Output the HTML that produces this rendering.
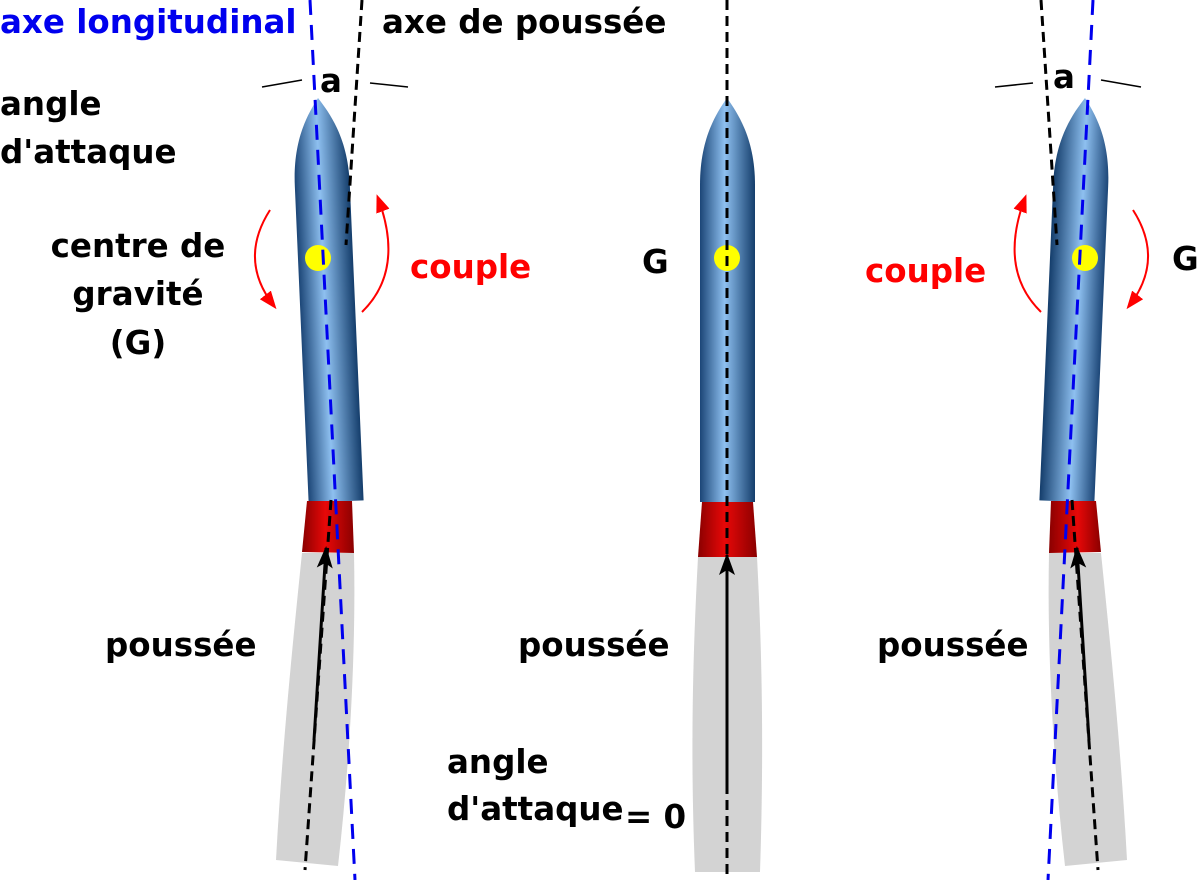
<!DOCTYPE html>
<html><head><meta charset="utf-8"><style>
html,body{margin:0;padding:0;background:#fff}
svg{display:block}
text{font-family:"DejaVu Sans","Liberation Sans",sans-serif;font-weight:bold;font-size:32.5px}
</style></head><body>
<svg width="1200" height="880" viewBox="0 0 1200 880" xmlns="http://www.w3.org/2000/svg">
<defs>
<linearGradient id="bg" x1="0" x2="1" y1="0" y2="0">
<stop offset="0" stop-color="#1c4677"/><stop offset="0.45" stop-color="#8ec0f0"/><stop offset="1" stop-color="#143d6b"/>
</linearGradient>
<linearGradient id="rg" x1="0" x2="1" y1="0" y2="0">
<stop offset="0" stop-color="#8a0000"/><stop offset="0.45" stop-color="#e80808"/><stop offset="1" stop-color="#8a0000"/>
</linearGradient>
<marker id="ra" markerWidth="18" markerHeight="18" refX="14" refY="9" orient="auto" markerUnits="userSpaceOnUse" viewBox="0 0 18 18"><path d="M0,2 L18,9 L0,16 Z" fill="#f00"/></marker>
<marker id="ba" markerWidth="22" markerHeight="22" refX="20" refY="11" orient="auto" markerUnits="userSpaceOnUse" viewBox="0 0 22 22"><path d="M0,3 L22,11 L0,19 L5,11 Z" fill="#000"/></marker>
<g id="body">
<path d="M700,185 C700,140 715,115 727,98 C739,115 755,140 755,185 L755,502 L700,502 Z" fill="url(#bg)"/>
</g>
<g id="L">
<path d="M302,553 L354,553 C356,650 350,760 338,866 L276,860 C282,750 292,650 302,553 Z" fill="#d3d3d3"/>
<use href="#body" transform="translate(-409,0) rotate(-2.5,727,98)"/>
<path d="M307,501 L352,501 L354,553 L302,552 Z" fill="url(#rg)"/>
<line x1="362" y1="0" x2="346" y2="245" stroke="#000" stroke-width="3" stroke-dasharray="10,6"/>
<line x1="331" y1="500" x2="305" y2="870" stroke="#000" stroke-width="3" stroke-dasharray="10,6"/>
<line x1="314" y1="740" x2="326" y2="548" stroke="#000" stroke-width="3" marker-end="url(#ba)"/>
<circle cx="318" cy="258" r="13" fill="#ffff00"/>
<line x1="310" y1="0" x2="355" y2="880" stroke="#0000ee" stroke-width="3" stroke-dasharray="15,10"/>
<line x1="262" y1="87" x2="302" y2="80" stroke="#000" stroke-width="1.5"/>
<line x1="370" y1="83" x2="408" y2="87" stroke="#000" stroke-width="1.5"/>
<path d="M270,210 Q238,260 274,306" fill="none" stroke="#f00" stroke-width="2" marker-end="url(#ra)"/>
<path d="M362,312 Q405,270 378,198" fill="none" stroke="#f00" stroke-width="2" marker-end="url(#ra)"/>
</g>
</defs>

<use href="#L"/>
<use href="#L" transform="translate(1403,0) scale(-1,1)"/>

<path d="M698,557 L757,557 C762,650 764,750 760,872 L695,872 C690,750 693,650 698,557 Z" fill="#d3d3d3"/>
<use href="#body"/>
<path d="M702,502 L753,502 L757,557 L698,557 Z" fill="url(#rg)"/>
<circle cx="727" cy="258" r="13" fill="#ffff00"/>
<line x1="727" y1="0" x2="727" y2="880" stroke="#000" stroke-width="3" stroke-dasharray="10,6"/>
<line x1="727" y1="790" x2="727" y2="555" stroke="#000" stroke-width="3" marker-end="url(#ba)"/>

<text x="0" y="33" fill="#0000ee">axe longitudinal</text>
<text x="382" y="33">axe de poussée</text>
<text x="320" y="92">a</text>
<text x="1053" y="88">a</text>
<text x="0" y="115">angle</text>
<text x="0" y="163">d'attaque</text>
<text x="138" y="257" text-anchor="middle">centre de</text>
<text x="138" y="305" text-anchor="middle">gravité</text>
<text x="138" y="354" text-anchor="middle">(G)</text>
<text x="410" y="278" fill="#f00">couple</text>
<text x="642" y="273">G</text>
<text x="865" y="282" fill="#f00">couple</text>
<text x="1172" y="270">G</text>
<text x="105" y="656">poussée</text>
<text x="518" y="656">poussée</text>
<text x="877" y="656">poussée</text>
<text x="447" y="773">angle</text>
<text x="447" y="820">d'attaque</text>
<text x="625" y="828">= 0</text>
</svg>
</body></html>
